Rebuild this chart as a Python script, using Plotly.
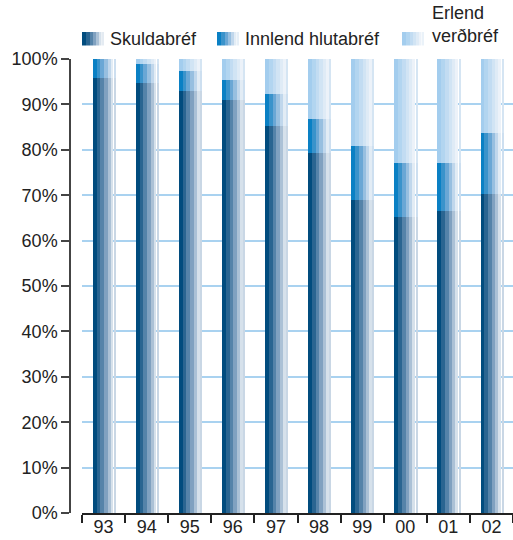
import numpy as np
import plotly.graph_objects as go

years = ["93", "94", "95", "96", "97", "98", "99", "00", "01", "02"]
skuldabref = [95.8, 94.7, 93.0, 91.0, 85.3, 79.4, 68.9, 65.3, 66.6, 70.3]
innlend = [4.2, 4.2, 4.4, 4.4, 7.1, 7.4, 12.0, 11.9, 10.6, 13.5]
erlend = [0.0, 1.1, 2.6, 4.6, 7.6, 13.2, 19.1, 22.8, 22.8, 16.2]

series_names = ["Skuldabréf", "Innlend hlutabréf", "Erlend verðbréf"]
shades = {
    "Skuldabréf": ["#014c7e", "#2a6591", "#5583a9", "#80a1c0", "#abc1d6", "#d6e1eb", "#c9d7e5"],
    "Innlend hlutabréf": ["#0a80c4", "#3a93cb", "#6aa7d5", "#97bfe0", "#c0d7ec", "#e2ecf5", "#cddff0"],
    "Erlend verðbréf": ["#a3cdee", "#b2d5f0", "#c2dcf2", "#d1e4f4", "#dfebf6", "#ecf2f9", "#d5e5f3"],
}

# strip edges in px relative to the category centre (one category = 43.1 px)
CAT_PX = 43.1
strip_edges = [(-10.9, -7.0), (-7.0, -3.3), (-3.3, 0.4), (0.4, 4.0), (4.0, 7.0), (7.0, 9.8), (10.8, 11.9)]

values = np.array([skuldabref, innlend, erlend])
bases = np.vstack([np.zeros(len(years)), np.cumsum(values, axis=0)[:-1]])

fig = go.Figure()
for name, vals, base in zip(series_names, values, bases):
    for (a, b), col in zip(strip_edges, shades[name]):
        fig.add_trace(go.Bar(
            x=years, y=vals, base=base,
            offset=a / CAT_PX, width=(b - a) / CAT_PX,
            marker={"color": col, "line": {"width": 0}},
            name=name, showlegend=False, hoverinfo="skip",
        ))

# plot area in px: left 70, top 59, width 443, height 454
def px_x(p):
    return (p - 70) / 443


def px_y(p):
    return (513 - p) / 454


legend_items = [
    ("Skuldabréf", 82, 108),
    ("Innlend hlutabréf", 217, 243),
    ("Erlend verðbréf", 402, 430),
]
swatch = [(0, 4), (4, 8), (8, 11), (11, 14), (14, 17), (17, 19.5), (20.5, 21.5)]
shapes = []
annotations = []
for name, sx, tx in legend_items:
    for (a, b), col in zip(swatch, shades[name]):
        shapes.append(dict(
            type="rect", xref="paper", yref="paper",
            x0=px_x(sx + a), x1=px_x(sx + b), y0=px_y(45.5), y1=px_y(32),
            fillcolor=col, line={"width": 0}, layer="above",
        ))
    if name == "Erlend verðbréf":
        annotations.append(dict(
            text="Erlend<br>verðbréf", xref="paper", yref="paper",
            x=px_x(tx), y=px_y(48), xanchor="left", yanchor="bottom",
            align="left", showarrow=False,
            font={"size": 18, "color": "#222222", "family": "Liberation Sans"},
        ))
    else:
        annotations.append(dict(
            text=name, xref="paper", yref="paper",
            x=px_x(tx), y=px_y(39), xanchor="left", yanchor="middle",
            showarrow=False,
            font={"size": 18, "color": "#222222", "family": "Liberation Sans"},
        ))

fig.update_layout(
    width=513, height=540,
    margin={"l": 70, "r": 0, "t": 59, "b": 27},
    barmode="overlay",
    bargap=0,
    plot_bgcolor="white", paper_bgcolor="white",
    font={"family": "Liberation Sans", "size": 18, "color": "#222222"},
    shapes=shapes,
    annotations=annotations,
    showlegend=False,
    xaxis={
        "domain": [12 / 443, 1],
        "type": "category",
        "tickson": "boundaries",
        "ticks": "outside", "ticklen": 8, "tickwidth": 1.5, "tickcolor": "#222222",
        "showline": True, "linecolor": "#222222", "linewidth": 1.5,
        "showgrid": False,
        "ticklabelstandoff": -3,
    },
    yaxis={
        "anchor": "free", "position": 0,
        "range": [0, 100],
        "dtick": 10, "ticksuffix": "%",
        "ticks": "outside", "ticklen": 8, "tickwidth": 1.5, "tickcolor": "#444444",
        "showline": True, "linecolor": "#444444", "linewidth": 1.5,
        "showgrid": True, "gridcolor": "#a9d2f0", "gridwidth": 1.5,
        "zeroline": False,
    },
)

fig.write_html(
    "out.html",
    config={"displayModeBar": False},
    post_script="document.body.style.margin='0';document.body.style.overflow='hidden';",
)
